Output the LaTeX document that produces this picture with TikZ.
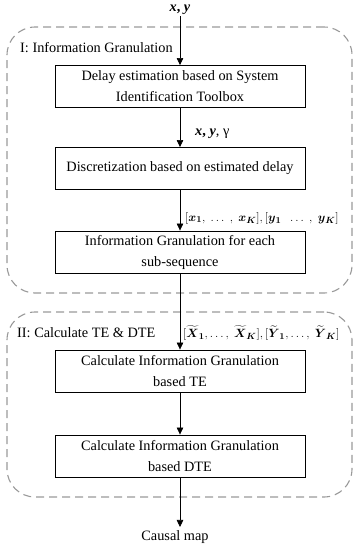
\documentclass[tikz,border=0pt]{standalone}
\usepackage{amsmath}
\usepackage{fontspec}
\setmainfont{Liberation Serif}
\usetikzlibrary{arrows.meta}
\newcommand{\bv}[1]{\boldsymbol{#1}}
\begin{document}
\begin{tikzpicture}[x=1pt,y=-1pt,
  every node/.style={font=\fontsize{14.3}{21}\selectfont},
  box/.style={draw=black, line width=0.9pt, minimum width=250pt, minimum height=42pt, align=center, inner sep=0pt},
  region/.style={draw=black!40, line width=1.1pt, dash pattern=on 8pt off 5pt, rounded corners=28pt, minimum width=345pt, inner sep=0pt},
  flow/.style={draw=black, line width=0.6pt, -{Triangle[length=7pt,width=6.5pt]}},
  lbl/.style={anchor=west, inner sep=0pt},
  mlbl/.style={anchor=west, inner sep=0pt, font=\fontsize{13.2}{16}\selectfont}
]
\useasboundingbox (0,0) rectangle (359,550);
% regions
\node[region, minimum height=266pt] (r1) at (179.5,160) {};
\node[region, minimum height=185pt] (r2) at (179.5,404.5) {};
\node[lbl] (t1) at (20,48) {I: Information Granulation};
\node[lbl] (t2) at (17,333) {II: Calculate TE \& DTE};
% boxes
\node[inner sep=1pt] (in) at (180,10) {\textbf{\textit{x}, \textit{y}}};
\node[box] (b1) at (180,86.5) {Delay estimation based on System\\Identification Toolbox};
\node[box] (b2) at (180,168.5) {Discretization based on estimated delay};
\node[box] (b3) at (180,252) {Information Granulation for each\\sub-sequence};
\node[box] (b4) at (180,371) {Calculate Information Granulation\\based TE};
\node[box] (b5) at (180,456) {Calculate Information Granulation\\based DTE};
\node (out) at (175,537) {Causal map};
% connectors
\draw[flow] (in.south) -- (b1.north);
\draw[flow] (b1.south) -- (b2.north);
\draw[flow] (b2.south) -- (b3.north);
\draw[flow] (b3.south) -- (b4.north);
\draw[flow] (b4.south) -- (b5.north);
\draw[flow] (b5.south) -- (b5.south |- out.north);
% edge labels
\node[lbl] (e1) at (195,134) {\textbf{\textit{x}, \textit{y}}, γ};
\node[mlbl] (e2) at (185,218) {$[\bv{x}_{\bv{1}},\ \dots\ ,\ \bv{x}_{\bv{K}}], [\bv{y}_{\bv{1}}\ \ \dots\ ,\ \bv{y}_{\bv{K}}]$};
\node[mlbl, font=\fontsize{13}{16}\selectfont] (e3) at (183,333) {$[\widetilde{\bv{X}}_{\bv{1}}, \dots,\ \widetilde{\bv{X}}_{\bv{K}}], [\widetilde{\bv{Y}}_{\bv{1}}, \dots,\ \widetilde{\bv{Y}}_{\bv{K}}]$};
\end{tikzpicture}
\end{document}
